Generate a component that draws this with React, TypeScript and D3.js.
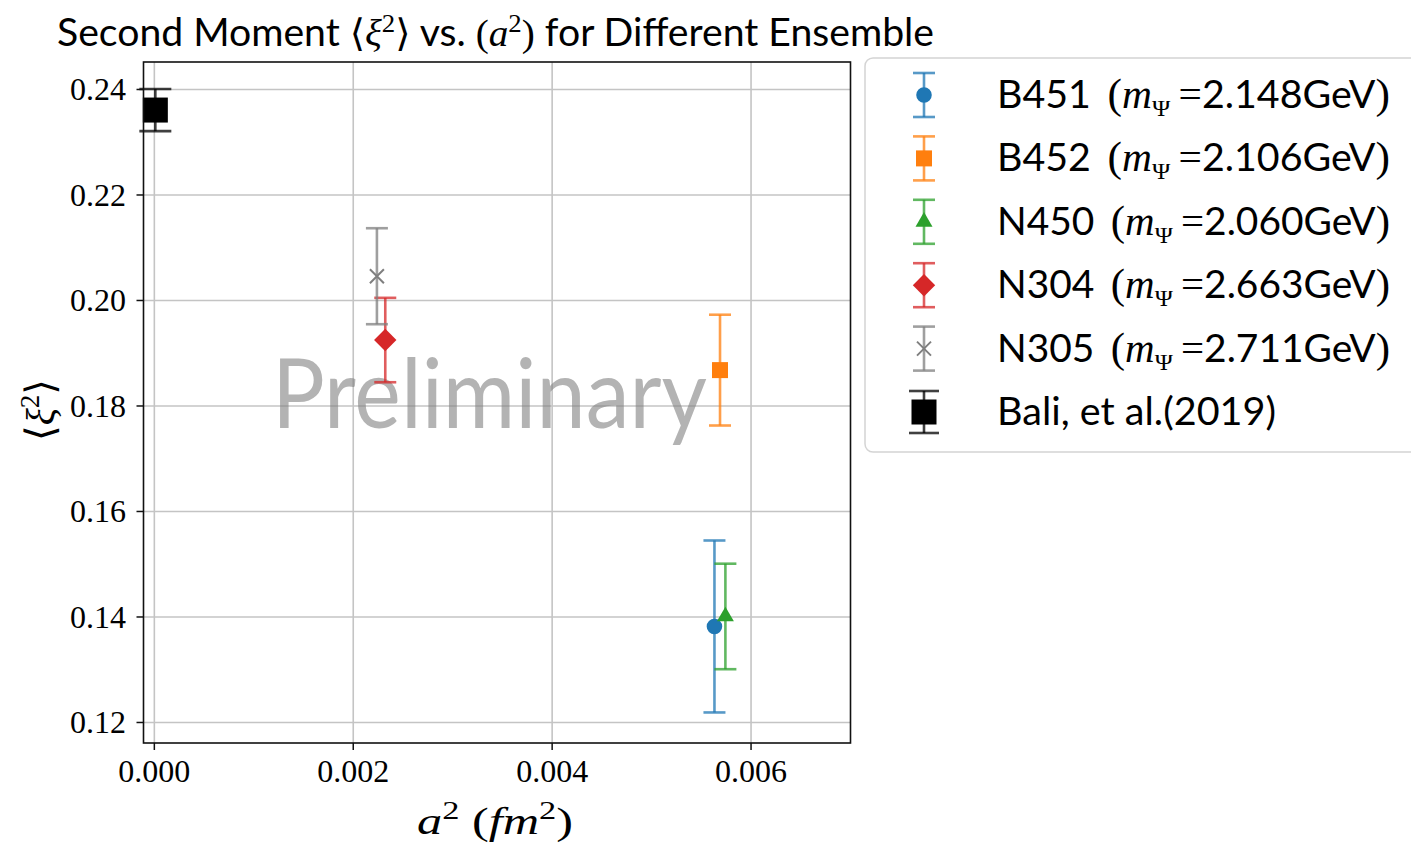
import React from 'react';
import * as d3 from 'd3';

// ensembles (legend order)
const ensembles = ['B451', 'B452', 'N450', 'N304', 'N305'];
const masses = ['2.148', '2.106', '2.060', '2.663', '2.711'];
const aSquared = [0.005632, 0.005688, 0.005742, 0.002322, 0.002238];
const xiSquared = [0.1382, 0.1868, 0.1401, 0.1925, 0.2046];
const xiErrors = [0.0163, 0.0105, 0.01, 0.008, 0.0091];
const markers = ['circle', 'square', 'triangle', 'diamond', 'x'];
const colors = ['#1f77b4', '#ff7f0e', '#2ca02c', '#d62728', '#7f7f7f'];

// reference point
const baliLabel = 'Bali, et al.(2019)';
const baliA2 = 0.00001;
const baliXi2 = 0.2361;
const baliErr = 0.004;

const xTicks = [0, 0.002, 0.004, 0.006];
const yTicks = [0.12, 0.14, 0.16, 0.18, 0.2, 0.22, 0.24];

const W = 1411;
const H = 847;
const plot = { left: 143.5, right: 850.5, top: 62, bottom: 743 };

const SANS = 'Lato, "Open Sans", sans-serif';
const SERIF = '"Liberation Serif", "DejaVu Serif", serif';

const markerPath = (kind: string): string => {
  if (kind === 'circle') return d3.symbol().type(d3.symbolCircle).size(190)() || '';
  if (kind === 'square') return d3.symbol().type(d3.symbolSquare).size(256)() || '';
  if (kind === 'triangle') return d3.symbol().type(d3.symbolTriangle).size(125)() || '';
  if (kind === 'diamond') return d3.symbol().type(d3.symbolSquare).size(250)() || '';
  const p = d3.path();
  const r = 7;
  p.moveTo(-r, -r); p.lineTo(r, r);
  p.moveTo(-r, r); p.lineTo(r, -r);
  return p.toString();
};

const Marker: React.FC<{ kind: string; color: string; x: number; y: number }> = ({ kind, color, x, y }) => {
  const rot = kind === 'diamond' ? ' rotate(45)' : '';
  if (kind === 'x') {
    return <path d={markerPath(kind)} transform={`translate(${x},${y})`} stroke={color} strokeWidth={2} fill="none" />;
  }
  return <path d={markerPath(kind)} transform={`translate(${x},${y})${rot}`} fill={color} />;
};

const ErrorBar: React.FC<{ x: number; y0: number; y1: number; cap: number; color: string }> = ({ x, y0, y1, cap, color }) => (
  <g stroke={color} strokeOpacity={0.75} strokeWidth={2.6} fill="none">
    <line x1={x} x2={x} y1={y0} y2={y1} />
    <line x1={x - cap} x2={x + cap} y1={y0} y2={y0} />
    <line x1={x - cap} x2={x + cap} y1={y1} y2={y1} />
  </g>
);

const App: React.FC = () => {
  const x = d3.scaleLinear().domain([-0.000109, 0.007]).range([plot.left, plot.right]);
  const y = d3.scaleLinear().domain([0.11611, 0.24521]).range([plot.bottom, plot.top]);
  const fx = d3.format('.3f');
  const fy = d3.format('.2f');

  const legendX = 924;
  const legendY0 = 95;
  const legendStep = 63.4;
  const textX = 997;

  return (
    <svg width={W} height={H} style={{ position: 'absolute', left: 0, top: 0, background: '#fff' }}>
      {/* title */}
      <text x={57} y={46} fontFamily={SANS} fontSize={38} fill="#000" textLength={877} lengthAdjust="spacingAndGlyphs">
        <tspan>Second Moment </tspan>
        <tspan fontFamily={SERIF}>⟨</tspan>
        <tspan fontFamily={SERIF} fontStyle="italic">ξ</tspan>
        <tspan fontFamily={SERIF} fontSize={26} dy={-14}>2</tspan>
        <tspan fontFamily={SERIF} dy={14}>⟩</tspan>
        <tspan> vs. </tspan>
        <tspan fontFamily={SERIF}>(</tspan>
        <tspan fontFamily={SERIF} fontStyle="italic">a</tspan>
        <tspan fontFamily={SERIF} fontSize={26} dy={-14}>2</tspan>
        <tspan fontFamily={SERIF} dy={14}>)</tspan>
        <tspan> for Different Ensemble</tspan>
      </text>

      {/* grid */}
      <g stroke="#c4c4c4" strokeWidth={1.6}>
        {xTicks.map(t => (
          <line key={`gx${t}`} x1={x(t)} x2={x(t)} y1={plot.top} y2={plot.bottom} />
        ))}
        {yTicks.map(t => (
          <line key={`gy${t}`} x1={plot.left} x2={plot.right} y1={y(t)} y2={y(t)} />
        ))}
      </g>

      {/* watermark */}
      <text x={272} y={428} fontFamily={SANS} fontSize={96} fill="#808080" fillOpacity={0.6} textLength={435} lengthAdjust="spacingAndGlyphs">
        Preliminary
      </text>

      {/* data */}
      {ensembles.map((e, i) => (
        <g key={e}>
          <ErrorBar x={x(aSquared[i])} y0={y(xiSquared[i] + xiErrors[i])} y1={y(xiSquared[i] - xiErrors[i])} cap={11} color={colors[i]} />
          <Marker kind={markers[i]} color={colors[i]} x={x(aSquared[i])} y={y(xiSquared[i])} />
        </g>
      ))}
      <ErrorBar x={x(baliA2)} y0={y(baliXi2 + baliErr)} y1={y(baliXi2 - baliErr)} cap={16} color="#000" />
      <rect x={x(baliA2) - 12.5} y={y(baliXi2) - 12.5} width={25} height={25} fill="#000" />

      {/* axes frame */}
      <rect x={plot.left} y={plot.top} width={plot.right - plot.left} height={plot.bottom - plot.top} fill="none" stroke="#111" strokeWidth={1.6} />

      {/* x ticks */}
      {xTicks.map(t => (
        <g key={`tx${t}`}>
          <line x1={x(t)} x2={x(t)} y1={plot.bottom} y2={plot.bottom + 7} stroke="#111" strokeWidth={1.5} />
          <text x={x(t)} y={782} textAnchor="middle" fontFamily={SERIF} fontSize={32} fill="#000">{fx(t)}</text>
        </g>
      ))}

      {/* y ticks */}
      {yTicks.map(t => (
        <g key={`ty${t}`}>
          <line x1={plot.left - 7} x2={plot.left} y1={y(t)} y2={y(t)} stroke="#111" strokeWidth={1.5} />
          <text x={126} y={y(t) + 11} textAnchor="end" fontFamily={SERIF} fontSize={32} fill="#000">{fy(t)}</text>
        </g>
      ))}

      {/* axis labels */}
      <text x={417} y={834} fontFamily={SERIF} fontSize={38} fill="#000" textLength={156} lengthAdjust="spacingAndGlyphs">
        <tspan fontStyle="italic">a</tspan>
        <tspan fontSize={26} dy={-15}>2</tspan>
        <tspan dy={15}> (</tspan>
        <tspan fontStyle="italic">fm</tspan>
        <tspan fontSize={26} dy={-15}>2</tspan>
        <tspan dy={15}>)</tspan>
      </text>
      <text transform="translate(54,410) rotate(-90)" textAnchor="middle" fontFamily={SERIF} fontSize={40} fill="#000">
        <tspan>⟨</tspan>
        <tspan fontStyle="italic">ξ</tspan>
        <tspan fontSize={27} dy={-15}>2</tspan>
        <tspan dy={15}>⟩</tspan>
      </text>

      {/* legend */}
      <rect x={865} y={58} width={560} height={394} rx={8} fill="#fff" fillOpacity={0.8} stroke="#d4d4d4" strokeWidth={1.5} />
      {ensembles.map((e, i) => {
        const ly = legendY0 + i * legendStep;
        return (
          <g key={`leg${e}`}>
            <ErrorBar x={legendX} y0={ly - 22} y1={ly + 22} cap={11} color={colors[i]} />
            <Marker kind={markers[i]} color={colors[i]} x={legendX} y={ly} />
            <text x={textX} y={ly + 13} fontFamily={SANS} fontSize={38} fill="#000" textLength={393} lengthAdjust="spacingAndGlyphs">
              <tspan>{e}</tspan>
              <tspan fontFamily={SERIF} fontSize={42} dx={16}>(</tspan>
              <tspan fontFamily={SERIF} fontStyle="italic" fontSize={40}>m</tspan>
              <tspan fontFamily={SERIF} fontSize={24} dy={8}>Ψ</tspan>
              <tspan fontFamily={SERIF} fontSize={40} dy={-8} dx={8}>=</tspan>
              <tspan>{masses[i]}GeV</tspan>
              <tspan fontFamily={SERIF} fontSize={42}>)</tspan>
            </text>
          </g>
        );
      })}
      {(() => {
        const ly = legendY0 + ensembles.length * legendStep;
        return (
          <g>
            <ErrorBar x={legendX} y0={ly - 21} y1={ly + 21} cap={15} color="#000" />
            <rect x={legendX - 12.5} y={ly - 12.5} width={25} height={25} fill="#000" />
            <text x={textX} y={ly + 13} fontFamily={SANS} fontSize={38} fill="#000" textLength={279} lengthAdjust="spacingAndGlyphs">
              {baliLabel}
            </text>
          </g>
        );
      })()}
    </svg>
  );
};

export default App;
